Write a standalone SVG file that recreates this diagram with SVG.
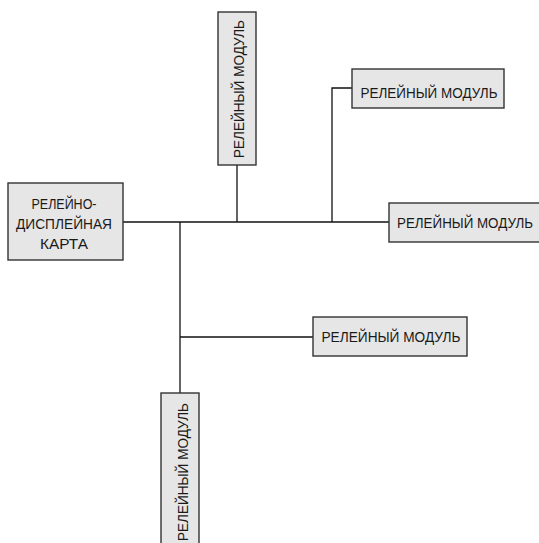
<svg xmlns="http://www.w3.org/2000/svg" width="539" height="543" viewBox="0 0 539 543">
  <style>
    .box { fill: #e6e6e6; stroke: #333333; stroke-width: 1.4; }
    .lbl { font-family: "Liberation Sans", Arial, sans-serif; font-size: 15px; fill: #1a1a1a; }
    .wire { fill: none; stroke: #111111; stroke-width: 1.3; }
  </style>

  <!-- bus wiring -->
  <g id="connectors">
    <path class="wire" d="M123 222 H389"/>
    <path class="wire" d="M237 165 V222"/>
    <path class="wire" d="M332 222 V88 H352"/>
    <path class="wire" d="M180 222 V393"/>
    <path class="wire" d="M180 337 H313"/>
  </g>

  <!-- display card -->
  <g id="display-card">
    <rect class="box" x="8" y="183" width="115" height="77"/>
    <text class="lbl" text-anchor="middle" x="64" y="209" textLength="65" lengthAdjust="spacingAndGlyphs">РЕЛЕЙНО-</text>
    <text class="lbl" text-anchor="middle" x="64" y="229" textLength="96" lengthAdjust="spacingAndGlyphs">ДИСПЛЕЙНАЯ</text>
    <text class="lbl" text-anchor="middle" x="64" y="249" textLength="48" lengthAdjust="spacingAndGlyphs">КАРТА</text>
  </g>

  <!-- relay modules -->
  <g id="relay-top">
    <rect class="box" x="218" y="12" width="38" height="153"/>
    <text class="lbl" text-anchor="middle" transform="translate(243.5 89) rotate(-90)" textLength="138" lengthAdjust="spacingAndGlyphs">РЕЛЕЙНЫЙ МОДУЛЬ</text>
  </g>

  <g id="relay-upper-right">
    <rect class="box" x="352" y="69" width="152" height="39"/>
    <text class="lbl" text-anchor="middle" x="429" y="97.5" textLength="137" lengthAdjust="spacingAndGlyphs">РЕЛЕЙНЫЙ МОДУЛЬ</text>
  </g>

  <g id="relay-right">
    <rect class="box" x="389" y="203" width="153" height="39"/>
    <text class="lbl" x="397" y="227.5" textLength="136" lengthAdjust="spacingAndGlyphs">РЕЛЕЙНЫЙ МОДУЛЬ</text>
  </g>

  <g id="relay-middle">
    <rect class="box" x="313" y="317" width="154" height="39"/>
    <text class="lbl" text-anchor="middle" x="391" y="342" textLength="139" lengthAdjust="spacingAndGlyphs">РЕЛЕЙНЫЙ МОДУЛЬ</text>
  </g>

  <g id="relay-bottom">
    <rect class="box" x="161" y="393" width="38" height="155"/>
    <text class="lbl" transform="translate(187.5 541) rotate(-90)" textLength="138" lengthAdjust="spacingAndGlyphs">РЕЛЕЙНЫЙ МОДУЛЬ</text>
  </g>
</svg>
